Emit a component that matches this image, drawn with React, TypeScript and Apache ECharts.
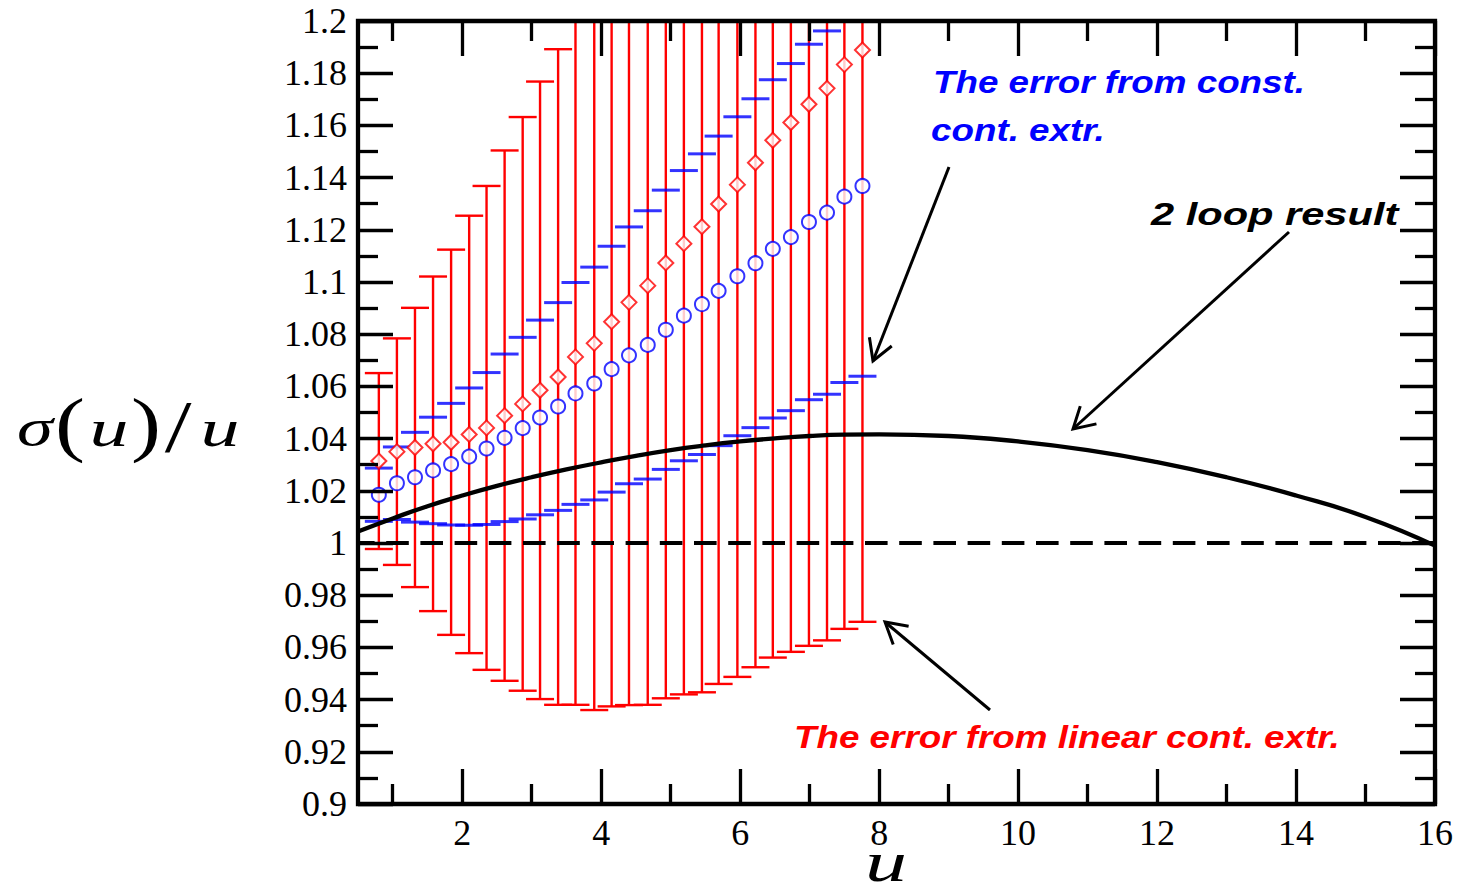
import React, { useEffect, useRef } from "react";
import * as echarts from "echarts";

// u values at which the extrapolated step-scaling function is given
const uValues = [
  0.8, 1.06, 1.32, 1.58, 1.84, 2.1, 2.35, 2.61, 2.87, 3.12, 3.38, 3.63, 3.9, 4.15,
  4.4, 4.67, 4.93, 5.19, 5.45, 5.69, 5.96, 6.22, 6.47, 6.73, 6.99, 7.25, 7.5, 7.76,
];

// linear continuum extrapolation: central values and symmetric errors
const linearCentral = [
  1.0314, 1.035, 1.0366, 1.038, 1.0386, 1.0416, 1.0441, 1.0488, 1.0533, 1.0585,
  1.0636, 1.0713, 1.0765, 1.0848, 1.0922, 1.0986, 1.1073, 1.1147, 1.1212, 1.1299,
  1.1373, 1.1457, 1.1543, 1.1611, 1.1681, 1.1742, 1.1833, 1.1889,
];
const linearErr = [
  0.0337, 0.0434, 0.0535, 0.0641, 0.0738, 0.0838, 0.0927, 0.1016, 0.1099, 0.1183,
  0.1256, 0.1333, 0.1405, 0.1474, 0.1543, 0.1606, 0.1668, 0.1727, 0.1784, 0.1839,
  0.1886, 0.1933, 0.1982, 0.2028, 0.2075, 0.2115, 0.2162, 0.2191,
];

// constant continuum extrapolation: central values and symmetric errors
const constCentral = [
  1.0185, 1.0229, 1.0252, 1.0278, 1.0302, 1.0331, 1.0362, 1.0403, 1.044, 1.0481,
  1.0523, 1.0573, 1.0611, 1.0666, 1.0719, 1.0759, 1.0817, 1.0871, 1.0915, 1.0966,
  1.1022, 1.1072, 1.1127, 1.1172, 1.123, 1.1266, 1.1327, 1.1368,
];
const constErr = [
  0.0102, 0.0139, 0.0172, 0.0204, 0.0233, 0.0263, 0.0291, 0.0321, 0.0348, 0.0373,
  0.0398, 0.0425, 0.0446, 0.0471, 0.0492, 0.0514, 0.0535, 0.0556, 0.0576, 0.0593,
  0.0611, 0.063, 0.0648, 0.0665, 0.0681, 0.0696, 0.0712, 0.0729,
];

// two-loop perturbative curve
const twoLoopU = [
  0.5, 1, 1.5, 2, 2.5, 3, 3.5, 4, 4.5, 5, 5.5, 6, 6.5, 7, 7.5, 8, 9, 10, 11, 12, 13, 14, 15, 16,
];
const twoLoopValue = [
  1.0044, 1.0094, 1.0141, 1.0182, 1.0219, 1.0252, 1.0282, 1.0309, 1.0334, 1.0356,
  1.0374, 1.0389, 1.0401, 1.041, 1.0415, 1.0416, 1.041, 1.0389, 1.0356, 1.031,
  1.0252, 1.0182, 1.01, 0.999,
];

const xMajorTicks = [2, 4, 6, 8, 10, 12, 14, 16];
const xMinorTicks = [1, 3, 5, 7, 9, 11, 13, 15];

const GRID = { left: 358, top: 21, width: 1077, height: 783 };
const TICK_STYLE = { color: "#000", width: 3.3 };
const SERIF = "'Liberation Serif', 'Times New Roman', serif";
const SANS = "'Liberation Sans', Arial, sans-serif";

function arrow(tail: number[], tip: number[]) {
  const dx = tip[0] - tail[0];
  const dy = tip[1] - tail[1];
  const len = Math.hypot(dx, dy);
  const bx = -dx / len;
  const by = -dy / len;
  const L = 24;
  const a = Math.PI / 6;
  const rot = (t: number) => [bx * Math.cos(t) - by * Math.sin(t), bx * Math.sin(t) + by * Math.cos(t)];
  const w1 = rot(a);
  const w2 = rot(-a);
  const style = { stroke: "#000", lineWidth: 3, fill: null as any };
  return [
    { type: "line", silent: true, z: 50, shape: { x1: tail[0], y1: tail[1], x2: tip[0], y2: tip[1] }, style },
    {
      type: "polyline",
      silent: true,
      z: 50,
      shape: {
        points: [
          [tip[0] + w1[0] * L, tip[1] + w1[1] * L],
          [tip[0], tip[1]],
          [tip[0] + w2[0] * L, tip[1] + w2[1] * L],
        ],
      },
      style,
    },
  ];
}

function annotation(text: string, x: number, y: number, color: string, size: number, scaleX: number) {
  return {
    type: "text",
    silent: true,
    z: 50,
    x,
    y,
    scaleX,
    style: {
      text,
      fill: color,
      fontFamily: SANS,
      fontWeight: "bold",
      fontStyle: "italic",
      fontSize: size,
      align: "left",
      verticalAlign: "middle",
    },
  };
}

function mathGlyph(text: string, x: number, y: number, size: number, italic: boolean, scaleX: number) {
  return {
    type: "text",
    silent: true,
    z: 50,
    x,
    y,
    scaleX,
    style: {
      text,
      fill: "#000",
      fontFamily: SERIF,
      fontStyle: italic ? "italic" : "normal",
      fontSize: size,
      align: "center",
      verticalAlign: "middle",
    },
  };
}

function xAxisDef(position: string, ticks: number[], length: number, labels: boolean) {
  return {
    type: "value",
    position,
    min: 0.5,
    max: 16,
    z: 10,
    axisLine: { show: false },
    splitLine: { show: false },
    axisTick: { show: true, inside: true, length, lineStyle: TICK_STYLE, customValues: ticks },
    axisLabel: labels
      ? {
          show: true,
          customValues: ticks,
          margin: 11,
          fontFamily: SERIF,
          fontSize: 36,
          color: "#000",
          formatter: (v: number) => String(v),
        }
      : { show: false },
  };
}

function yAxisDef(position: string, labels: boolean) {
  return {
    type: "value",
    position,
    min: 0.9,
    max: 1.2,
    interval: 0.02,
    z: 10,
    axisLine: { show: false },
    splitLine: { show: false },
    minorSplitLine: { show: false },
    axisTick: { show: true, inside: true, length: 35, lineStyle: TICK_STYLE },
    minorTick: { show: true, splitNumber: 2, length: 20, lineStyle: TICK_STYLE },
    axisLabel: labels
      ? {
          show: true,
          margin: 11,
          fontFamily: SERIF,
          fontSize: 36,
          color: "#000",
          formatter: (v: number) => String(Math.round(v * 100) / 100),
        }
      : { show: false },
  };
}

export default function App() {
  const ref = useRef<HTMLDivElement>(null);

  useEffect(() => {
    if (!ref.current) return;
    const chart = echarts.init(ref.current, null, { renderer: "svg" });

    const linearBars = uValues.map((u, i) => [u, linearCentral[i] - linearErr[i], linearCentral[i] + linearErr[i]]);
    const constUpper = uValues.map((u, i) => [u, constCentral[i] + constErr[i]]);
    const constLower = uValues.map((u, i) => [u, constCentral[i] - constErr[i]]);
    const diamonds = uValues.map((u, i) => [u, linearCentral[i]]);
    const circles = uValues.map((u, i) => [u, constCentral[i]]);
    const twoLoop = twoLoopU.map((u, i) => [u, twoLoopValue[i]]);

    const option: any = {
      animation: false,
      backgroundColor: "#fff",
      grid: { ...GRID, containLabel: false },
      xAxis: [
        xAxisDef("bottom", xMajorTicks, 35, true),
        xAxisDef("bottom", xMinorTicks, 20, false),
        xAxisDef("top", xMajorTicks, 35, false),
        xAxisDef("top", xMinorTicks, 20, false),
      ],
      yAxis: [yAxisDef("left", true), yAxisDef("right", false)],
      series: [
        {
          type: "custom",
          clip: true,
          z: 2,
          data: linearBars,
          encode: { x: 0, y: [1, 2] },
          renderItem: (params: any, api: any) => {
            const cs = params.coordSys;
            const u = api.value(0);
            const lo = api.coord([u, api.value(1)]);
            const hi = api.coord([u, api.value(2)]);
            const top = cs.y;
            const bottom = cs.y + cs.height;
            const half = 14;
            const style = { stroke: "#ff0000", lineWidth: 2.4 };
            const children: any[] = [
              {
                type: "line",
                shape: { x1: lo[0], y1: Math.min(lo[1], bottom), x2: hi[0], y2: Math.max(hi[1], top) },
                style,
              },
            ];
            if (lo[1] <= bottom) {
              children.push({ type: "line", shape: { x1: lo[0] - half, y1: lo[1], x2: lo[0] + half, y2: lo[1] }, style });
            }
            if (hi[1] >= top) {
              children.push({ type: "line", shape: { x1: hi[0] - half, y1: hi[1], x2: hi[0] + half, y2: hi[1] }, style });
            }
            return { type: "group", children };
          },
        },
        {
          type: "scatter",
          z: 3,
          symbol: "rect",
          symbolSize: [28, 3],
          itemStyle: { color: "#0000ff" },
          data: constUpper,
        },
        {
          type: "scatter",
          z: 3,
          symbol: "rect",
          symbolSize: [28, 3],
          itemStyle: { color: "#0000ff" },
          data: constLower,
        },
        {
          type: "scatter",
          z: 4,
          symbol: "emptyDiamond",
          symbolSize: [15, 15],
          itemStyle: { color: "#ff0000", borderColor: "#ff0000", borderWidth: 2.5 },
          data: diamonds,
        },
        {
          type: "scatter",
          z: 4,
          symbol: "emptyCircle",
          symbolSize: 14,
          itemStyle: { color: "#0000ff", borderColor: "#0000ff", borderWidth: 2.6 },
          data: circles,
        },
        {
          type: "line",
          z: 5,
          smooth: true,
          showSymbol: false,
          symbol: "none",
          lineStyle: { color: "#000", width: 4.3 },
          data: twoLoop,
        },
        {
          type: "line",
          z: 5,
          showSymbol: false,
          symbol: "none",
          lineStyle: { color: "#000", width: 4, type: [22.6, 11.6], dashOffset: 5.7 },
          data: [
            [0.5, 1],
            [16, 1],
          ],
        },
      ],
      graphic: [
        {
          type: "rect",
          silent: true,
          z: 100,
          shape: { x: GRID.left, y: GRID.top, width: GRID.width, height: GRID.height },
          style: { stroke: "#000", lineWidth: 4.3, fill: null },
        },
        // y axis title: sigma(u)/u
        mathGlyph("σ", 35, 428, 52, true, 1.4),
        mathGlyph("(", 70, 424, 72, false, 1.25),
        mathGlyph("u", 109, 428, 52, true, 1.5),
        mathGlyph(")", 146, 424, 72, false, 1.25),
        mathGlyph("/", 178, 427, 74, false, 1.3),
        mathGlyph("u", 220, 428, 52, true, 1.5),
        // x axis title
        mathGlyph("u", 886, 862, 58, true, 1.45),
        annotation("The error from const.", 933, 82, "#0000ff", 32, 1.15),
        annotation("cont. extr.", 931, 130, "#0000ff", 32, 1.15),
        annotation("2 loop result", 1151, 214, "#000", 32, 1.3),
        annotation("The error from linear cont. extr.", 794, 737, "#ff0000", 32, 1.15),
        ...arrow([949, 167], [873, 361]),
        ...arrow([1289, 232], [1073, 429]),
        ...arrow([990, 710], [885, 622]),
      ],
    };

    chart.setOption(option);
    return () => chart.dispose();
  }, []);

  return (
    <div
      ref={ref}
      style={{ position: "fixed", left: 0, top: 0, width: 1457, height: 893, background: "#fff" }}
    />
  );
}
